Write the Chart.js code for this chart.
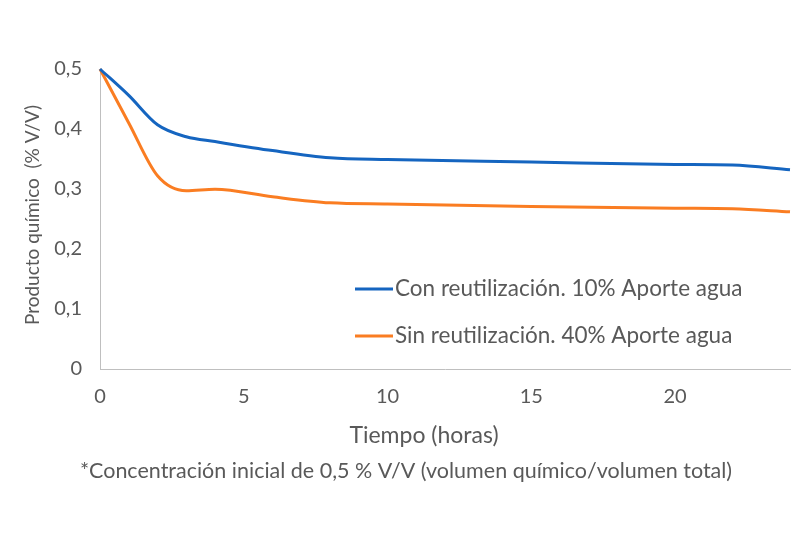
<!DOCTYPE html>
<html>
<head>
<meta charset="utf-8">
<script src="https://cdn.jsdelivr.net/npm/chart.js@4.4.1/dist/chart.umd.min.js"></script>
<style>
  html, body { margin: 0; padding: 0; background: #fff; }
  #wrap { width: 800px; height: 533px; }
</style>
</head>
<body>
<div id="wrap"><canvas id="chart" width="800" height="533"></canvas></div>
<script>
// Hours and readings taken from the figure
const hours = [0, 1, 2, 3, 4, 6, 8, 10, 15, 20, 22, 24];
const conReutilizacion = [0.5, 0.456, 0.407, 0.387, 0.379, 0.364, 0.352, 0.349, 0.345, 0.341, 0.340, 0.332];
const sinReutilizacion = [0.5, 0.41, 0.322, 0.297, 0.2995, 0.287, 0.277, 0.275, 0.271, 0.268, 0.267, 0.262];
const seriesNames = ['Con reutilización. 10% Aporte agua', 'Sin reutilización. 40% Aporte agua'];
const yTicks = [0, 0.1, 0.2, 0.3, 0.4, 0.5];
const xTicks = [0, 5, 10, 15, 20];
const yTitle = 'Producto químico  (% V/V)';
const xTitle = 'Tiempo (horas)';
const footnote = '*Concentración inicial de 0,5 % V/V (volumen químico/volumen total)';

const textColor = '#595959';
const fontFamily = 'Lato, "Open Sans", sans-serif';
const colors = ['#1565C0', '#FA7D22'];

function pts(values) { return hours.map((h, i) => ({ x: h, y: values[i] })); }

// legend inside the plot, axis titles and footnote
const extras = {
  id: 'extras',
  afterDraw(chart) {
    const ctx = chart.ctx;
    ctx.save();
    ctx.font = '22.5px ' + fontFamily;
    ctx.fillStyle = textColor;
    ctx.textBaseline = 'middle';
    ctx.textAlign = 'left';
    const rows = [289, 336];
    chart.data.datasets.forEach((ds, i) => {
      ctx.strokeStyle = ds.borderColor;
      ctx.lineWidth = 3;
      ctx.beginPath();
      ctx.moveTo(355, rows[i]);
      ctx.lineTo(393, rows[i]);
      ctx.stroke();
      ctx.fillText(ds.label, 395, rows[i]);
    });

    ctx.textAlign = 'center';
    ctx.font = '23px ' + fontFamily;
    ctx.fillText(xTitle, 424, 436);

    ctx.font = '21.5px ' + fontFamily;
    ctx.fillText(footnote, 406, 471);

    ctx.translate(33, 215);
    ctx.rotate(-Math.PI / 2);
    ctx.font = '19px ' + fontFamily;
    ctx.fillText(yTitle, 0, 0);
    ctx.restore();
  }
};

new Chart(document.getElementById('chart'), {
  type: 'line',
  data: {
    datasets: [
      { label: seriesNames[0], data: pts(conReutilizacion), borderColor: colors[0], borderWidth: 3, pointRadius: 0, cubicInterpolationMode: 'monotone', fill: false, clip: 4 },
      { label: seriesNames[1], data: pts(sinReutilizacion), borderColor: colors[1], borderWidth: 3, pointRadius: 0, cubicInterpolationMode: 'monotone', fill: false, clip: 4 }
    ]
  },
  options: {
    responsive: false,
    animation: false,
    layout: { padding: { left: 22, top: 69, right: 10, bottom: 83 } },
    plugins: { legend: { display: false }, tooltip: { enabled: false } },
    scales: {
      x: {
        type: 'linear',
        min: 0,
        max: 24,
        afterFit(scale) { scale.height = 81; },
        afterBuildTicks(scale) { scale.ticks = xTicks.map(v => ({ value: v })); },
        grid: { display: false, drawTicks: false },
        border: { display: true, color: '#BFBFBF', width: 1 },
        ticks: { color: textColor, padding: 16, font: { family: fontFamily, size: 20 }, maxRotation: 0 },
        title: { display: false }
      },
      y: {
        min: 0,
        max: 0.5,
        afterFit(scale) { scale.width = 78; },
        afterBuildTicks(scale) { scale.ticks = yTicks.map(v => ({ value: v })); },
        grid: { display: false, drawTicks: false },
        border: { display: true, color: '#BFBFBF', width: 1 },
        ticks: {
          color: textColor, padding: 18, font: { family: fontFamily, size: 20 },
          callback: v => v === 0 ? '0' : v.toFixed(1).replace('.', ',')
        },
        title: { display: false }
      }
    }
  },
  plugins: [extras]
});
</script>
</body>
</html>
